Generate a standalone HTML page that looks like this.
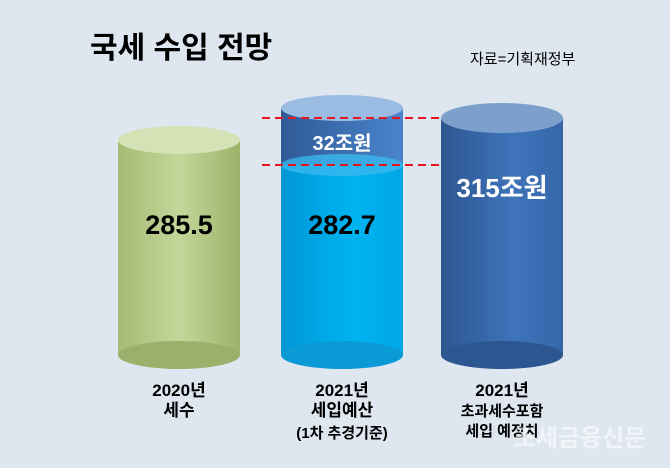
<!DOCTYPE html>
<html><head><meta charset="utf-8"><style>
body{margin:0;background:#dee6f0;}
svg{display:block;font-family:"Liberation Sans","Noto Sans CJK KR",sans-serif;}
</style></head><body>
<svg width="670" height="468" viewBox="0 0 670 468">
<defs>
<linearGradient id="g1" x1="0" x2="1"><stop offset="0" stop-color="#a4bb72"/><stop offset="0.5" stop-color="#c3d79a"/><stop offset="1" stop-color="#9db36a"/></linearGradient>
<linearGradient id="g2" x1="0" x2="1"><stop offset="0" stop-color="#0096d6"/><stop offset="0.6" stop-color="#00b4f2"/><stop offset="1" stop-color="#00a6e6"/></linearGradient>
<linearGradient id="g3" x1="0" x2="1"><stop offset="0" stop-color="#2c5690"/><stop offset="0.6" stop-color="#3e74bb"/><stop offset="1" stop-color="#3566aa"/></linearGradient>
<linearGradient id="g4" x1="0" x2="1"><stop offset="0" stop-color="#2f5a96"/><stop offset="1" stop-color="#4a84cc"/></linearGradient>
</defs>
<text x="90" y="58" font-size="30" font-weight="bold" fill="#000">국세 수입 전망</text>
<text x="470" y="64" font-size="15" fill="#000">자료=기획재정부</text>
<rect x="118" y="140" width="122" height="215" fill="url(#g1)"/>
<ellipse cx="179" cy="355" rx="61" ry="14" fill="#9bb06a"/>
<ellipse cx="179" cy="140" rx="61" ry="14" fill="#d4e2b6"/>
<rect x="281" y="165" width="122" height="190" fill="url(#g2)"/>
<ellipse cx="342" cy="355" rx="61" ry="14" fill="#0a9ad6"/>
<rect x="281" y="108" width="122" height="57" fill="url(#g4)"/>
<ellipse cx="342" cy="165" rx="61" ry="11" fill="#38b8ee" opacity="0.8"/>
<ellipse cx="342" cy="108" rx="61" ry="13" fill="#9bbce2"/>
<rect x="441" y="118" width="122" height="237" fill="url(#g3)"/>
<ellipse cx="502" cy="355" rx="61" ry="14" fill="#2c568f"/>
<ellipse cx="502" cy="118" rx="61" ry="15" fill="#7d9fcc"/>
<line x1="262" y1="118" x2="440" y2="118" stroke="#e8141b" stroke-width="2" stroke-dasharray="8,5"/>
<line x1="262" y1="165" x2="440" y2="165" stroke="#e8141b" stroke-width="2" stroke-dasharray="8,5"/>
<g font-weight="bold" text-anchor="middle">
<text x="179" y="234" font-size="27">285.5</text>
<text x="342" y="234" font-size="27">282.7</text>
<text x="342" y="150" font-size="20" fill="#fff">32조원</text>
<text x="502" y="197" font-size="26" fill="#fff">315조원</text>
<g font-size="17">
<text x="179" y="396">2020년</text><text x="179" y="416">세수</text>
<text x="342" y="396">2021년</text><text x="342" y="416">세입예산</text><text x="342" y="438" font-size="15">(1차 추경기준)</text>
<text x="502" y="396">2021년</text><text x="502" y="416" font-size="15">초과세수포함</text><text x="502" y="436" font-size="15">세입 예정치</text>
</g></g>
<text x="580" y="446" font-size="24" font-weight="bold" fill="#fff" opacity="0.6" text-anchor="middle">조세금융신문</text>
</svg>
</body></html>
